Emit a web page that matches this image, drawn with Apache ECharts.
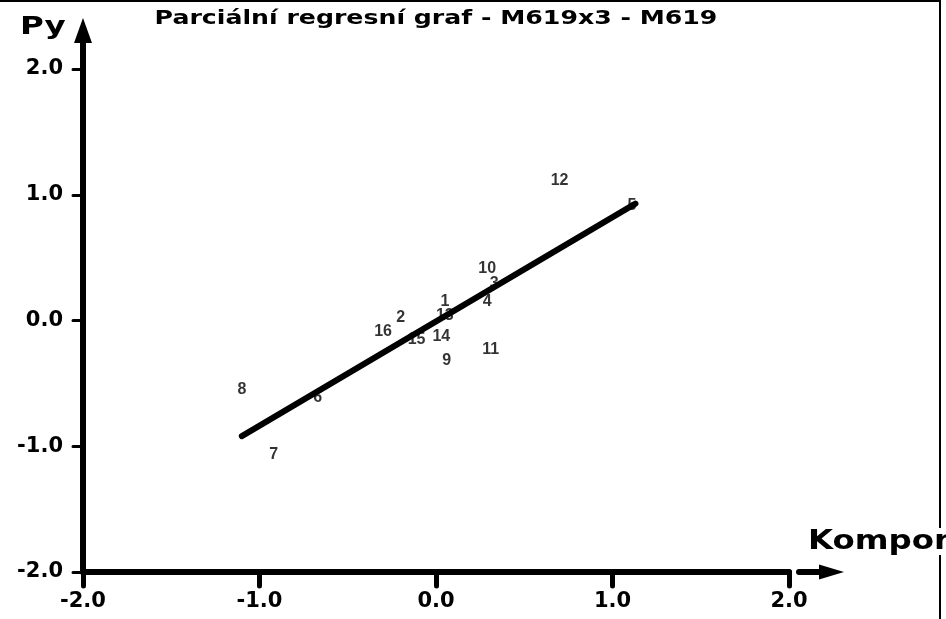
<!DOCTYPE html>
<html>
<head>
<meta charset="utf-8">
<script src="https://cdn.jsdelivr.net/npm/echarts@6/dist/echarts.min.js"></script>
<style>html,body{margin:0;padding:0;background:#fff}#c{width:946px;height:619px}</style>
</head>
<body>
<div id="c"></div>
<script>
// Point labels and coordinates (partial regression plot)
var pointLabels = ['1','2','3','4','5','6','7','8','9','10','11','12','13','14','15','16'];
var pointX = [0.05, -0.20, 0.33, 0.29, 1.11, -0.67, -0.92, -1.10, 0.06, 0.29, 0.31, 0.70, 0.05, 0.03, -0.11, -0.30];
var pointY = [0.15, 0.02, 0.29, 0.15, 0.91, -0.61, -1.07, -0.55, -0.32, 0.41, -0.23, 1.11, 0.04, -0.13, -0.15, -0.09];
// Regression line endpoints
var lineX = [-1.10, 1.13];
var lineY = [-0.92, 0.93];
// Axis ticks
var axisMin = -2, axisMax = 2, axisStep = 1;
var titleText = 'Parciální regresní graf - M619x3 - M619';
var yName = 'Py';
var xName = 'Komponenta';

var FONT = '"DejaVu Sans", Verdana, sans-serif';
var PFONT = '"Liberation Sans", Arial, sans-serif';
var chart = echarts.init(document.getElementById('c'));

var scatterData = pointLabels.map(function (l, i) { return { value: [pointX[i], pointY[i]], name: l }; });
var lineData = lineX.map(function (x, i) { return [x, lineY[i]]; });

function axisCommon(isX) {
  return {
    type: 'value', min: axisMin, max: axisMax, interval: axisStep,
    axisLine: { show: true, lineStyle: { color: '#000', width: 6, cap: 'round' }, onZero: false },
    axisTick: { show: true, length: isX ? 14 : 10, lineStyle: { color: '#000', width: isX ? 5 : 3, cap: 'round' } },
    axisLabel: {
      color: '#000', fontFamily: FONT, fontWeight: 'bold', fontSize: 21,
      margin: isX ? 19 : 20,
      formatter: function (v) { return v.toFixed(1); }
    },
    splitLine: { show: false }
  };
}

var option = {
  backgroundColor: '#fff',
  animation: false,
  grid: { left: 83, right: 157, top: 69, bottom: 47, containLabel: false },
  xAxis: axisCommon(true),
  yAxis: axisCommon(false),
  series: [
    {
      type: 'scatter', data: scatterData, symbolSize: 0, z: 2,
      label: {
        show: true, position: 'inside', formatter: '{b}',
        color: '#000', fontFamily: PFONT, fontWeight: 'bold', fontSize: 16
      }
    },
    {
      type: 'line', data: lineData, showSymbol: false, symbol: 'none', z: 5,
      lineStyle: { color: '#000', width: 6, cap: 'round' }
    }
  ]
};
chart.setOption(option);

var top2 = chart.convertToPixel({ yAxisIndex: 0 }, axisMax);
var yAxisX = chart.convertToPixel({ xAxisIndex: 0 }, axisMin);
var right2 = chart.convertToPixel({ xAxisIndex: 0 }, axisMax);
var bottomY = chart.convertToPixel({ yAxisIndex: 0 }, axisMin);

chart.setOption({
  graphic: [
    // frame
    { type: 'line', shape: { x1: 0, y1: 1, x2: 940, y2: 1 }, style: { stroke: '#000', lineWidth: 2 }, z: 1 },
    { type: 'line', shape: { x1: 940, y1: 0, x2: 940, y2: 619 }, style: { stroke: '#000', lineWidth: 2 }, z: 1 },
    // title
    { type: 'text', x: 436, y: 9, scaleX: 1.26, style: { text: titleText, fill: '#000', font: 'bold 20px ' + FONT, textAlign: 'center' }, z: 10 },
    // y axis extension + arrow
    { type: 'line', shape: { x1: yAxisX, y1: top2, x2: yAxisX, y2: top2 - 30 }, style: { stroke: '#000', lineWidth: 6 }, z: 10 },
    { type: 'polygon', shape: { points: [[yAxisX, top2 - 51], [yAxisX - 9, top2 - 26], [yAxisX + 9, top2 - 26]] }, style: { fill: '#000' }, z: 10 },
    // x axis arrow
    { type: 'line', shape: { x1: right2 + 10, y1: bottomY, x2: right2 + 34, y2: bottomY }, style: { stroke: '#000', lineWidth: 6, lineCap: 'round' }, z: 10 },
    { type: 'polygon', shape: { points: [[right2 + 55, bottomY], [right2 + 30, bottomY - 7.5], [right2 + 30, bottomY + 7.5]] }, style: { fill: '#000' }, z: 10 },
    // axis names
    { type: 'text', x: 20, y: 15, scaleX: 1.3, style: { text: yName, fill: '#000', font: 'bold 25px ' + FONT }, z: 10 },
    { type: 'text', x: 808, y: 528, scaleX: 1.2, style: { text: xName, fill: '#000', font: 'bold 27px ' + FONT, backgroundColor: '#fff' }, z: 10 }
  ]
});
</script>
</body>
</html>
